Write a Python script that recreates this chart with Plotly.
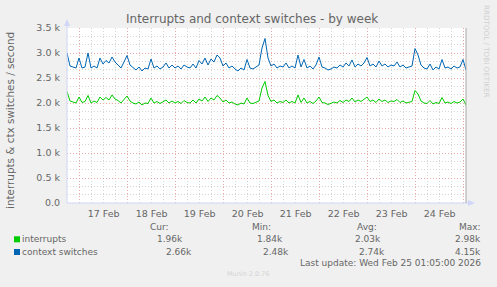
import plotly.graph_objects as go
import pandas as pd

# ---------------- data ----------------
START = "2026-02-16 17:40"
STEP = "90min"

context_switches = [
    3000, 2740, 2720, 2700, 2900, 2700, 2720, 3000, 2700, 2740,
    2700, 2900, 2780, 2850, 2800, 2920, 2820, 2760, 2700, 2820,
    2950, 2760, 2700, 2660, 2720, 2640, 2700, 2680, 2880, 2700,
    2740, 2680, 2720, 2800, 2700, 2760, 2700, 2740, 2680, 2760,
    2720, 2700, 2780, 2700, 2850, 2780, 2900, 2760, 2880, 2820,
    2960, 2900, 2740, 2800, 2700, 2740, 2680, 2640, 2700, 2660,
    2870, 2700, 2680, 2720, 2760, 3100, 3290, 2900, 2740, 2780,
    2700, 2740, 2720, 2800, 2700, 2740, 2700, 2960, 2720, 2870,
    2700, 2740, 2680, 2760, 2920, 2720, 2700, 2660, 2680, 2720,
    2700, 2760, 2720, 2800, 2740, 2860, 2720, 2780, 2740, 2800,
    2910, 2740, 2780, 2720, 2840, 2740, 2780, 2720, 2760, 2740,
    2820, 2720, 2760, 2700, 2720, 2740, 3090, 2960, 2760, 2700,
    2680, 2780, 2660, 2720, 2680, 2870, 2700, 2720, 2680, 2740,
    2700, 2720, 2870, 2660,
]

interrupts = [
    2230, 2040, 2020, 2000, 2120, 2010, 2030, 2150, 2000, 2040,
    2010, 2120, 2060, 2110, 2060, 2160, 2080, 2050, 2000, 2080,
    2140, 2040, 2000, 1980, 2020, 1960, 2000, 1990, 2100, 2000,
    2030, 1990, 2020, 2060, 2000, 2040, 2000, 2030, 1990, 2050,
    2010, 2000, 2060, 2000, 2080, 2040, 2120, 2030, 2100, 2060,
    2150, 2100, 2020, 2060, 2000, 2020, 1980, 1960, 2000, 1980,
    2100, 2000, 1990, 2020, 2040, 2300, 2430, 2150, 2030, 2060,
    2000, 2030, 2010, 2060, 2000, 2030, 2000, 2160, 2010, 2100,
    2000, 2030, 1990, 2040, 2120, 2010, 2000, 1970, 1990, 2020,
    2000, 2050, 2010, 2060, 2030, 2100, 2020, 2060, 2030, 2070,
    2120, 2030, 2060, 2010, 2080, 2030, 2060, 2010, 2040, 2030,
    2070, 2010, 2040, 2000, 2010, 2030, 2250, 2180, 2040, 2000,
    1990, 2050, 1980, 2010, 1990, 2110, 2000, 2020, 1990, 2030,
    2000, 2020, 2080, 1960,
]

series_names = ["interrupts", "context switches"]
series_colors = ["#00CC00", "#0066B3"]
cur_vals = ["1.96k", "2.66k"]
min_vals = ["1.84k", "2.48k"]
avg_vals = ["2.03k", "2.74k"]
max_vals = ["2.98k", "4.15k"]

ytick_vals = [0, 500, 1000, 1500, 2000, 2500, 3000, 3500]
ytick_text = ["0.0", "0.5 k", "1.0 k", "1.5 k", "2.0 k", "2.5 k", "3.0 k", "3.5 k"]

X_RANGE = ["2026-02-16 17:40", "2026-02-25 01:10"]
Y_RANGE = [0, 3500]

TITLE = "Interrupts and context switches - by week"
Y_TITLE = "interrupts & ctx switches / second"
LAST_UPDATE = "Last update: Wed Feb 25 01:05:00 2026"
SIDE_TEXT = "RRDTOOL / TOBI OETIKER"
FOOTER = "Munin 2.0.76"

# ---------------- layout helpers ----------------
W, H = 497, 287
L, R, T, B = 67, 31, 28, 84
PW, PH = W - L - R, H - T - B


def px(x):
    return (x - L) / PW


def py(y):
    return (H - B - y) / PH


FONT = "DejaVu Sans"
TXT = "#666666"
MAJ = "#EBA8A8"
MIN = "#D6D6D6"
AXC = "#CFD6F8"

times = pd.date_range(START, periods=len(interrupts), freq=STEP)

fig = go.Figure()
for name, vals, col in zip(series_names, [interrupts, context_switches], series_colors):
    fig.add_trace(go.Scatter(x=times, y=vals, mode="lines", name=name,
                             line=dict(color=col, width=1), showlegend=False))

ann = []


def text(x, y, s, size=9, color=TXT, xanchor="left", angle=0):
    ann.append(dict(x=px(x), y=py(y), xref="paper", yref="paper", text=s,
                    showarrow=False, xanchor=xanchor, yanchor="middle",
                    textangle=angle, font=dict(family=FONT, size=size, color=color)))


text(252, 19, TITLE, size=12, xanchor="center")
text(10, 121, Y_TITLE, size=10.4, xanchor="center", angle=-90)
text(487, 51, SIDE_TEXT, size=7.2, color="#D0D0D0", xanchor="center", angle=90)

# legend
text(148, 227, "Cur:")
text(250, 227, "Min:")
text(355, 227, "Avg:")
text(457, 227, "Max:")
row_y = [239, 251.7]
cur_right = [185, 194]
min_right = [285, 291]
avg_right = [383, 387]
max_right = [483, 483]
shapes = []
for i, name in enumerate(series_names):
    yy = row_y[i]
    text(20, yy, name)
    shapes.append(dict(type="rect", xref="paper", yref="paper",
                       x0=px(14), x1=px(20), y0=py(yy + 3.3), y1=py(yy - 2.7),
                       fillcolor=series_colors[i], line=dict(width=0)))
    text(cur_right[i], yy, cur_vals[i], xanchor="right")
    text(min_right[i], yy, min_vals[i], xanchor="right")
    text(avg_right[i], yy, avg_vals[i], xanchor="right")
    text(max_right[i], yy, max_vals[i], xanchor="right")

text(483, 263.3, LAST_UPDATE, xanchor="right")
text(248, 273.5, FOOTER, size=6.5, color="#D4D4D4", xanchor="center")

# axes decorations: axis lines with arrows, right frame line
shapes += [
    dict(type="line", xref="paper", yref="paper", x0=px(67), x1=px(67), y0=py(203), y1=py(24),
         line=dict(color=AXC, width=1)),
    dict(type="path", xref="paper", yref="paper",
         path=f"M {px(64)} {py(26)} L {px(70)} {py(26)} L {px(67)} {py(19)} Z",
         fillcolor=AXC, line=dict(width=0)),
    dict(type="line", xref="paper", yref="paper", x0=px(67), x1=px(470), y0=py(203), y1=py(203),
         line=dict(color=AXC, width=1)),
    dict(type="path", xref="paper", yref="paper",
         path=f"M {px(468)} {py(200)} L {px(468)} {py(206)} L {px(475)} {py(203)} Z",
         fillcolor=AXC, line=dict(width=0)),
    dict(type="line", xref="paper", yref="paper", x0=px(466), x1=px(466), y0=py(203), y1=py(28),
         line=dict(color="#A8A8A8", width=1)),
]

fig.update_layout(
    width=W, height=H, autosize=False,
    margin=dict(l=L, r=R, t=T, b=B, pad=0),
    paper_bgcolor="#F0F0F0", plot_bgcolor="#FFFFFF",
    font=dict(family=FONT, size=9, color=TXT),
    annotations=ann, shapes=shapes,
    xaxis=dict(type="date", range=X_RANGE, tick0="2026-02-17", dtick=86400000,
               ticklabelmode="period", tickformat="%d %b", ticks="",
               showgrid=True, gridcolor=MAJ, griddash="1px,2px", gridwidth=1,
               minor=dict(dtick=21600000, tick0="2026-02-17", showgrid=True,
                          gridcolor=MIN, griddash="1px,2px", gridwidth=1),
               showline=False, zeroline=False, fixedrange=True,
               tickfont=dict(family=FONT, size=9.5, color=TXT), ticklabelstandoff=3),
    yaxis=dict(range=Y_RANGE, tickvals=ytick_vals, ticktext=ytick_text, ticks="",
               showgrid=True, gridcolor=MAJ, griddash="1px,2px", gridwidth=1,
               minor=dict(tick0=0, dtick=500 / 3, showgrid=True, gridcolor=MIN,
                          griddash="1px,2px", gridwidth=1),
               showline=False, zeroline=False, fixedrange=True,
               tickfont=dict(family=FONT, size=9.5, color=TXT), ticklabelstandoff=6),
)

fig.write_html("out.html")
